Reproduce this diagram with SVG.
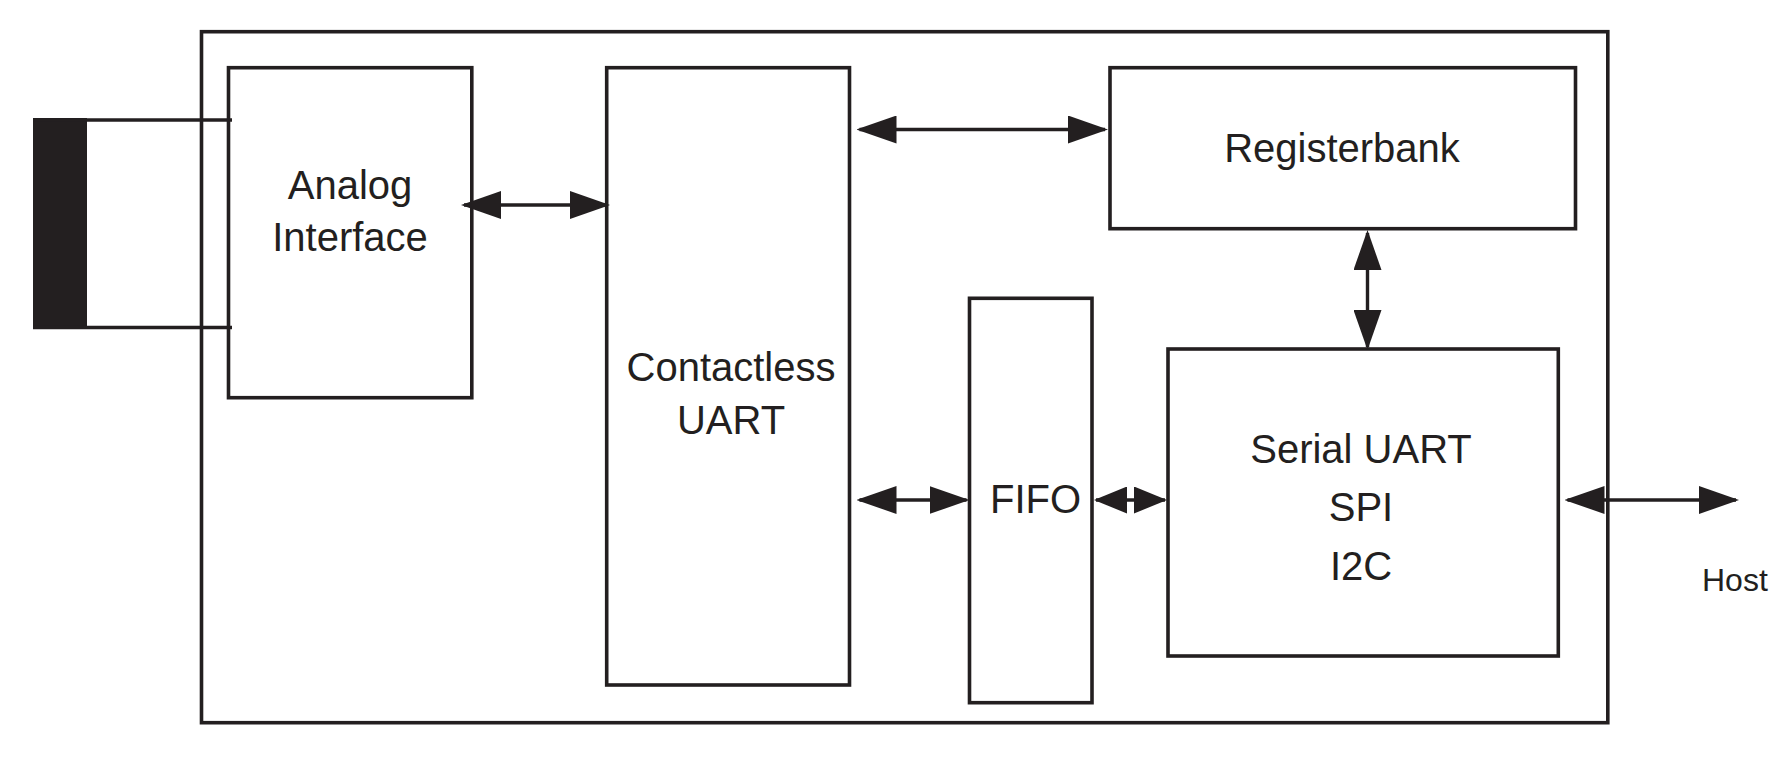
<svg xmlns="http://www.w3.org/2000/svg" width="1774" height="784" viewBox="0 0 1774 784">
<style>
.box{fill:none;stroke:#231f20;stroke-width:3.6;stroke-linejoin:miter}
.ln{stroke:#231f20;stroke-width:3.4;fill:none}
.lbl{font-family:"Liberation Sans",Arial,sans-serif;font-size:40px;fill:#231f20;text-anchor:middle}
.host{font-family:"Liberation Sans",Arial,sans-serif;font-size:32px;fill:#231f20}
</style>
<defs>
<marker id="ah" viewBox="0 0 40 28" refX="37" refY="14" markerWidth="40" markerHeight="28" markerUnits="userSpaceOnUse" orient="auto-start-reverse">
<path d="M0,0 L40,14 L0,28 Z" fill="#231f20"/>
</marker>
<marker id="ahs" viewBox="0 0 33 27" refX="31" refY="13.5" markerWidth="33" markerHeight="27" markerUnits="userSpaceOnUse" orient="auto-start-reverse">
<path d="M0,0 L33,13.5 L0,27 Z" fill="#231f20"/>
</marker>
</defs>
<rect width="1774" height="784" fill="#ffffff"/>
<g id="chip"><rect class="box" x="201.5" y="31.7" width="1406.3" height="691"/></g>
<g id="antenna">
<rect x="33" y="118" width="54" height="211" fill="#231f20"/>
<line class="ln" x1="33" y1="120" x2="232" y2="120"/>
<line class="ln" x1="33" y1="327.5" x2="232" y2="327.5"/>
</g>
<g id="analog">
<rect class="box" x="228.5" y="67.7" width="243.3" height="330"/>
<text class="lbl" x="350" y="199">Analog</text>
<text class="lbl" x="350" y="251">Interface</text>
</g>
<g id="contactless">
<rect class="box" x="606.7" y="67.7" width="242.8" height="617.3"/>
<text class="lbl" x="731" y="381">Contactless</text>
<text class="lbl" x="731" y="434">UART</text>
</g>
<g id="registerbank">
<rect class="box" x="1110" y="67.7" width="465.5" height="161"/>
<text class="lbl" x="1342" y="162">Registerbank</text>
</g>
<g id="fifo">
<rect class="box" x="969.5" y="298.3" width="122.5" height="404.4"/>
<text class="lbl" x="1035.5" y="513">FIFO</text>
</g>
<g id="serial">
<rect class="box" x="1168" y="349" width="390.3" height="307"/>
<text class="lbl" x="1361" y="463">Serial UART</text>
<text class="lbl" x="1361" y="520.5">SPI</text>
<text class="lbl" x="1361" y="579.5">I2C</text>
</g>
<g id="host"><text class="host" x="1702" y="591">Host</text></g>
<g id="connectors">
<line class="ln" x1="464" y1="205" x2="607" y2="205" marker-start="url(#ah)" marker-end="url(#ah)"/>
<line class="ln" x1="859.5" y1="129.5" x2="1105" y2="129.5" marker-start="url(#ah)" marker-end="url(#ah)"/>
<line class="ln" x1="1367.5" y1="233" x2="1367.5" y2="347" marker-start="url(#ah)" marker-end="url(#ah)"/>
<line class="ln" x1="859.5" y1="500" x2="966.5" y2="500" marker-start="url(#ah)" marker-end="url(#ah)"/>
<line class="ln" x1="1096" y1="500" x2="1165" y2="500" marker-start="url(#ahs)" marker-end="url(#ahs)"/>
<line class="ln" x1="1567.5" y1="500" x2="1736" y2="500" marker-start="url(#ah)" marker-end="url(#ah)"/>
</g>
</svg>
